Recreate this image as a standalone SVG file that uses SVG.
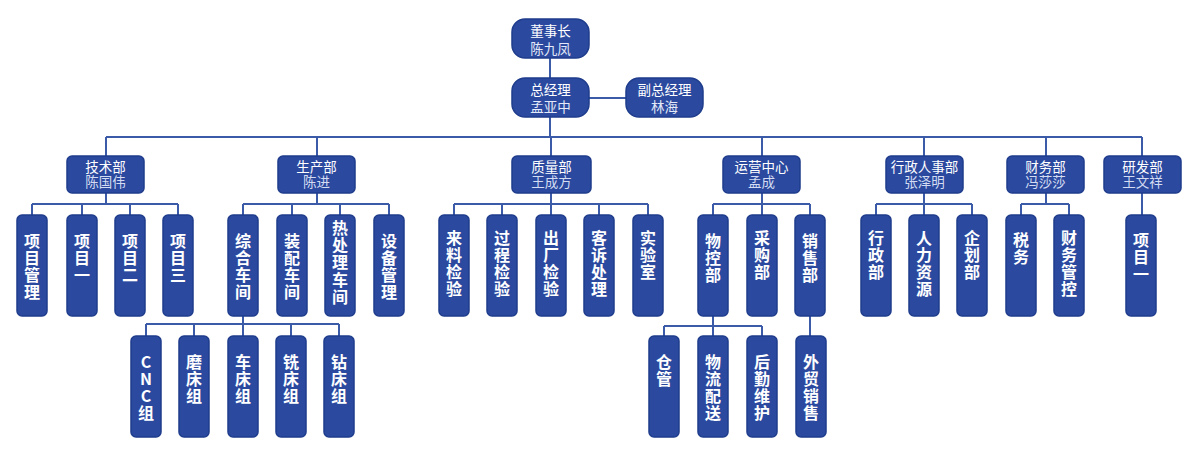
<svg xmlns="http://www.w3.org/2000/svg" width="1200" height="456" viewBox="0 0 1200 456">
<style>
.b{fill:#2b4a9f;stroke:#1f3d8c;stroke-width:1.5}
.ln{stroke:#3b5aa8;stroke-width:2;fill:none}
text{font-family:"Noto Sans CJK SC","Noto Sans",sans-serif;text-anchor:middle;fill:#ffffff}
.h{font-size:13.5px}
.n{fill:#d3dcf2}
.n1{fill:#e3e9f8}
.v{font-size:16px;font-weight:bold;writing-mode:vertical-rl;text-orientation:upright;text-anchor:start;letter-spacing:1px}
</style>
<rect width="1200" height="456" fill="#ffffff"/>
<g id="connectors" class="ln">
<path d="M550 58V78M589 98H626M550 117V137M106 137H1142"/>
<path d="M106 137V156M317 137V156M551 137V156M762 137V156M924 137V156M1046 137V156M1142 137V156"/>
<path d="M106 193V204M32 204H178M32 204V215M82 204V215M130 204V215M178 204V215"/>
<path d="M317 193V204M243 204H389M243 204V215M292 204V215M340 204V215M389 204V215"/>
<path d="M551 193V204M454 204H648M454 204V215M502 204V215M551 204V215M599 204V215M648 204V215"/>
<path d="M762 193V204M713 204H810M713 204V215M762 204V215M810 204V215"/>
<path d="M924 193V204M876 204H972M876 204V215M924 204V215M972 204V215"/>
<path d="M1046 193V204M1021 204H1069M1021 204V215M1069 204V215"/>
<path d="M1142 193V215"/>
<path d="M243 316V324M146 324H339M146 324V336M194 324V336M243 324V336M291 324V336M339 324V336"/>
<path d="M713 316V326M664 326H762M664 326V336M713 326V336M762 326V336M810 316V336"/>
</g>
<g id="chairman"><rect class="b" x="512" y="19" width="77" height="39" rx="13"/><text class="h"><tspan x="550.5" y="35.5">董事长</tspan><tspan class="n1" x="550.5" y="53.5">陈九凤</tspan></text></g>
<g id="gm"><rect class="b" x="512" y="78" width="77" height="39" rx="13"/><text class="h"><tspan x="550.5" y="94.5">总经理</tspan><tspan class="n1" x="550.5" y="112">孟亚中</tspan></text></g>
<g id="vgm"><rect class="b" x="626" y="78" width="77" height="39" rx="13"/><text class="h"><tspan x="664.5" y="94.5">副总经理</tspan><tspan class="n1" x="664.5" y="112">林海</tspan></text></g>

<g id="d-tech"><rect class="b" x="67" y="156" width="77" height="37" rx="5"/><text class="h"><tspan x="105.5" y="171.5">技术部</tspan><tspan class="n" x="105.5" y="187">陈国伟</tspan></text></g>
<g id="d-prod"><rect class="b" x="278" y="156" width="77" height="37" rx="5"/><text class="h"><tspan x="316.5" y="171.5">生产部</tspan><tspan class="n" x="316.5" y="187">陈进</tspan></text></g>
<g id="d-qa"><rect class="b" x="512" y="156" width="79" height="37" rx="5"/><text class="h"><tspan x="551.5" y="171.5">质量部</tspan><tspan class="n" x="551.5" y="187">王成方</tspan></text></g>
<g id="d-ops"><rect class="b" x="723" y="156" width="77" height="37" rx="5"/><text class="h"><tspan x="761.5" y="171.5">运营中心</tspan><tspan class="n" x="761.5" y="187">孟成</tspan></text></g>
<g id="d-hr"><rect class="b" x="886" y="156" width="77" height="37" rx="5"/><text class="h"><tspan x="924.5" y="171.5">行政人事部</tspan><tspan class="n" x="924.5" y="187">张泽明</tspan></text></g>
<g id="d-fin"><rect class="b" x="1007" y="156" width="77" height="37" rx="5"/><text class="h"><tspan x="1045.5" y="171.5">财务部</tspan><tspan class="n" x="1045.5" y="187">冯莎莎</tspan></text></g>
<g id="d-rd"><rect class="b" x="1104" y="156" width="77" height="37" rx="5"/><text class="h"><tspan x="1142.5" y="171.5">研发部</tspan><tspan class="n" x="1142.5" y="187">王文祥</tspan></text></g>

<g id="t1"><rect class="b" x="17" y="215" width="30" height="101" rx="5"/><text class="v" x="32" y="233">项目管理</text></g>
<g id="t2"><rect class="b" x="67" y="215" width="30" height="101" rx="5"/><text class="v" x="82" y="233">项目一</text></g>
<g id="t3"><rect class="b" x="115" y="215" width="30" height="101" rx="5"/><text class="v" x="130" y="233">项目二</text></g>
<g id="t4"><rect class="b" x="163" y="215" width="30" height="101" rx="5"/><text class="v" x="178" y="233">项目三</text></g>

<g id="p1"><rect class="b" x="228" y="215" width="30" height="101" rx="5"/><text class="v" x="243" y="233">综合车间</text></g>
<g id="p2"><rect class="b" x="277" y="215" width="30" height="101" rx="5"/><text class="v" x="292" y="233">装配车间</text></g>
<g id="p3"><rect class="b" x="325" y="215" width="30" height="101" rx="5"/><text class="v" x="340" y="220" style="letter-spacing:1.2px">热处理车间</text></g>
<g id="p4"><rect class="b" x="374" y="215" width="30" height="101" rx="5"/><text class="v" x="389" y="233">设备管理</text></g>

<g id="q1"><rect class="b" x="439" y="215" width="30" height="101" rx="5"/><text class="v" x="454" y="230">来料检验</text></g>
<g id="q2"><rect class="b" x="487" y="215" width="30" height="101" rx="5"/><text class="v" x="502" y="230">过程检验</text></g>
<g id="q3"><rect class="b" x="536" y="215" width="30" height="101" rx="5"/><text class="v" x="551" y="230">出厂检验</text></g>
<g id="q4"><rect class="b" x="584" y="215" width="30" height="101" rx="5"/><text class="v" x="599" y="230">客诉处理</text></g>
<g id="q5"><rect class="b" x="633" y="215" width="30" height="101" rx="5"/><text class="v" x="648" y="230">实验室</text></g>

<g id="o1"><rect class="b" x="698" y="215" width="30" height="101" rx="5"/><text class="v" x="713" y="233">物控部</text></g>
<g id="o2"><rect class="b" x="747" y="215" width="30" height="101" rx="5"/><text class="v" x="762" y="230">采购部</text></g>
<g id="o3"><rect class="b" x="795" y="215" width="30" height="101" rx="5"/><text class="v" x="810" y="233">销售部</text></g>

<g id="h1"><rect class="b" x="861" y="215" width="30" height="101" rx="5"/><text class="v" x="876" y="230">行政部</text></g>
<g id="h2"><rect class="b" x="909" y="215" width="30" height="101" rx="5"/><text class="v" x="924" y="230">人力资源</text></g>
<g id="h3"><rect class="b" x="957" y="215" width="30" height="101" rx="5"/><text class="v" x="972" y="230">企划部</text></g>

<g id="f1"><rect class="b" x="1006" y="215" width="30" height="101" rx="5"/><text class="v" x="1021" y="232">税务</text></g>
<g id="f2"><rect class="b" x="1054" y="215" width="30" height="101" rx="5"/><text class="v" x="1069" y="230">财务管控</text></g>

<g id="r1"><rect class="b" x="1126" y="215" width="30" height="101" rx="5"/><text class="v" x="1141" y="232">项目一</text></g>

<g id="w1"><rect class="b" x="131" y="336" width="30" height="101" rx="5"/><text class="v" x="146" y="354">CNC组</text></g>
<g id="w2"><rect class="b" x="179" y="336" width="30" height="101" rx="5"/><text class="v" x="194" y="354">磨床组</text></g>
<g id="w3"><rect class="b" x="228" y="336" width="30" height="101" rx="5"/><text class="v" x="243" y="354">车床组</text></g>
<g id="w4"><rect class="b" x="276" y="336" width="30" height="101" rx="5"/><text class="v" x="291" y="354">铣床组</text></g>
<g id="w5"><rect class="b" x="324" y="336" width="30" height="101" rx="5"/><text class="v" x="339" y="354">钻床组</text></g>

<g id="l1"><rect class="b" x="649" y="336" width="30" height="101" rx="5"/><text class="v" x="664" y="354">仓管</text></g>
<g id="l2"><rect class="b" x="698" y="336" width="30" height="101" rx="5"/><text class="v" x="713" y="354">物流配送</text></g>
<g id="l3"><rect class="b" x="747" y="336" width="30" height="101" rx="5"/><text class="v" x="762" y="354">后勤维护</text></g>
<g id="l4"><rect class="b" x="796" y="336" width="30" height="101" rx="5"/><text class="v" x="811" y="354">外贸销售</text></g>
</svg>
